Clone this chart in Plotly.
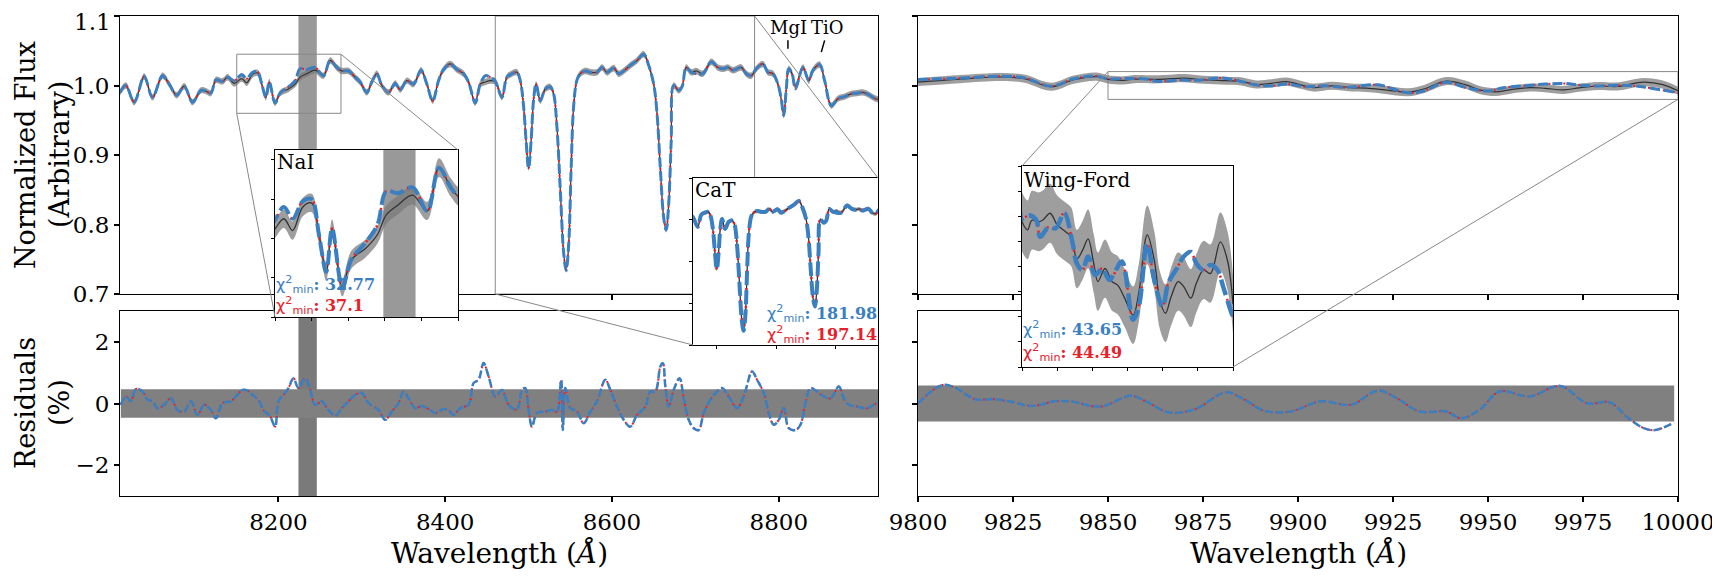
import plotly.graph_objects as go

W, H = 1720, 577
OFF = 8  # the page body adds an 8 px margin; layout below is in screen pixels
SERIF = "DejaVu Serif"
BLUE = "#3a7fc1"
RED = "#e8202a"
OBS = "#333333"
BAND = "rgba(120,120,120,0.72)"
RES_BAND = "#808080"
VBAND_TOP = "#999999"
VBAND_RES = "#7a7a7a"
FRAME = "#888888"

# ---- left spectrum (8010-8920 A) ----
wave_l = [8010, 8017, 8027, 8039, 8049, 8061, 8069, 8078, 8087, 8097,
          8107, 8113, 8119, 8125, 8133, 8139, 8147, 8156, 8162, 8169,
          8175, 8180, 8185, 8189, 8196, 8202, 8212, 8220, 8226, 8234,
          8244, 8254, 8262, 8270, 8276, 8284, 8292, 8298, 8306, 8312,
          8318, 8324, 8332, 8340, 8346, 8354, 8362, 8371, 8378, 8385,
          8392, 8398, 8406, 8414, 8422, 8428, 8436, 8442, 8448, 8454,
          8460, 8468, 8474, 8480, 8486, 8490, 8494, 8497, 8500, 8503,
          8506, 8509, 8514, 8520, 8526, 8530, 8534, 8538, 8542, 8545,
          8548, 8551, 8554, 8558, 8562, 8568, 8574, 8582, 8588, 8594,
          8602, 8608, 8614, 8622, 8630, 8638, 8644, 8650, 8654, 8658,
          8662, 8665, 8668, 8671, 8674, 8680, 8684, 8689, 8695, 8701,
          8709, 8719, 8727, 8733, 8739, 8745, 8755, 8761, 8767, 8773,
          8781, 8787, 8793, 8799, 8803, 8806, 8809, 8812, 8816, 8820,
          8829, 8836, 8841, 8849, 8855, 8863, 8871, 8879, 8887, 8894,
          8901, 8909, 8916, 8920]
fit_l = [0.990, 1.000, 0.976, 1.013, 0.983, 1.014, 1.002, 0.986, 0.999, 0.976,
         0.993, 0.992, 0.989, 1.008, 1.006, 1.012, 1.007, 1.016, 1.010, 1.019,
         1.020, 1.002, 0.983, 1.005, 0.975, 0.989, 0.998, 1.007, 1.024, 1.023,
         1.026, 1.014, 1.036, 1.026, 1.021, 1.021, 1.012, 1.005, 0.990, 1.005,
         1.017, 1.000, 0.990, 1.003, 0.994, 1.007, 1.002, 1.022, 1.002, 0.978,
         1.007, 1.023, 1.031, 1.023, 1.017, 1.005, 0.975, 1.002, 1.014, 1.012,
         1.006, 0.983, 1.012, 1.017, 1.019, 1.007, 0.970, 0.920, 0.881, 0.920,
         0.980, 1.002, 0.978, 0.995, 0.998, 0.988, 0.940, 0.850, 0.760, 0.734,
         0.770, 0.880, 0.970, 1.008, 1.017, 1.021, 1.019, 1.019, 1.026, 1.019,
         1.025, 1.017, 1.021, 1.029, 1.036, 1.045, 1.029, 1.002, 0.960, 0.880,
         0.810, 0.792, 0.830, 0.920, 1.000, 0.993, 0.998, 1.026, 1.019, 1.017,
         1.017, 1.034, 1.026, 1.024, 1.026, 1.022, 1.026, 1.017, 1.014, 1.024,
         1.031, 1.019, 1.017, 1.002, 0.980, 0.957, 0.995, 1.024, 1.017, 0.995,
         1.026, 1.007, 1.022, 1.030, 1.007, 0.971, 0.981, 0.984, 0.988, 0.989,
         0.990, 0.986, 0.981, 0.980]
obs_l = [0.990, 1.000, 0.976, 1.013, 0.983, 1.014, 1.002, 0.986, 0.999, 0.976,
         0.993, 0.992, 0.989, 1.008, 1.006, 1.012, 1.003, 1.010, 1.004, 1.016,
         1.018, 1.002, 0.983, 1.005, 0.975, 0.989, 0.995, 1.002, 1.012, 1.017,
         1.022, 1.014, 1.036, 1.026, 1.021, 1.021, 1.012, 1.005, 0.990, 1.005,
         1.017, 1.000, 0.990, 1.003, 0.994, 1.007, 1.002, 1.022, 1.002, 0.978,
         1.007, 1.023, 1.031, 1.023, 1.017, 1.005, 0.975, 1.002, 1.005, 1.007,
         1.006, 0.983, 1.012, 1.017, 1.019, 1.007, 0.970, 0.920, 0.881, 0.920,
         0.980, 1.002, 0.978, 0.995, 0.998, 0.988, 0.940, 0.850, 0.760, 0.734,
         0.770, 0.880, 0.970, 1.008, 1.017, 1.021, 1.019, 1.019, 1.026, 1.019,
         1.025, 1.017, 1.021, 1.029, 1.036, 1.045, 1.029, 1.002, 0.960, 0.880,
         0.810, 0.792, 0.830, 0.920, 1.000, 0.993, 0.998, 1.026, 1.019, 1.021,
         1.017, 1.034, 1.026, 1.024, 1.026, 1.022, 1.026, 1.017, 1.014, 1.024,
         1.031, 1.019, 1.017, 1.002, 0.980, 0.957, 0.995, 1.024, 1.017, 0.999,
         1.026, 1.007, 1.022, 1.030, 1.007, 0.971, 0.981, 0.984, 0.988, 0.989,
         0.990, 0.986, 0.981, 0.980]

# residuals (%) left
wave_rl = [8011, 8017, 8023, 8029, 8037, 8043, 8049, 8055, 8063, 8071,
           8079, 8087, 8095, 8103, 8111, 8119, 8125, 8133, 8143, 8149,
           8157, 8163, 8169, 8177, 8182, 8190, 8196, 8200, 8206, 8212,
           8218, 8224, 8232, 8238, 8244, 8252, 8260, 8268, 8276, 8284,
           8292, 8300, 8308, 8320, 8328, 8336, 8344, 8350, 8356, 8364,
           8372, 8382, 8388, 8398, 8404, 8410, 8418, 8428, 8434, 8440,
           8446, 8452, 8460, 8468, 8476, 8486, 8492, 8496, 8500, 8504,
           8510, 8520, 8528, 8534, 8539, 8541, 8544, 8550, 8558, 8566,
           8574, 8582, 8592, 8598, 8606, 8614, 8622, 8630, 8640, 8646,
           8652, 8658, 8661, 8664, 8668, 8674, 8681, 8686, 8692, 8698,
           8704, 8710, 8718, 8726, 8732, 8740, 8750, 8758, 8768, 8774,
           8782, 8788, 8794, 8800, 8806, 8812, 8820, 8826, 8832, 8838,
           8846, 8854, 8862, 8872, 8878, 8884, 8894, 8906, 8914, 8920]
res_l = [-0.04, 0.23, 0.07, 0.47, 0.39, 0.12, 0.07, -0.15, -0.04, 0.17,
         -0.21, -0.26, 0.07, -0.37, -0.04, -0.21, -0.48, 0.01, 0.07, 0.23,
         0.44, 0.42, 0.28, 0.07, -0.21, -0.42, -0.75, 0.07, 0.28, 0.50,
         0.82, 0.50, 0.82, 0.44, -0.04, 0.07, -0.21, -0.40, -0.15, 0.07,
         0.28, 0.34, 0.01, -0.21, -0.53, -0.26, 0.01, 0.39, 0.17, -0.15,
         -0.08, -0.21, -0.31, -0.18, -0.21, -0.37, -0.15, -0.04, 0.66, 0.77,
         1.31, 0.88, 0.23, 0.44, -0.04, -0.20, 0.44, 0.50, -0.20, -0.75,
         -0.31, -0.26, -0.21, -0.26, 0.77, -0.86, 0.50, -0.15, -0.26, -0.64,
         -0.26, 0.07, 0.77, 0.44, -0.10, -0.53, -0.75, -0.37, -0.10, 0.39,
         0.39, 1.20, 1.31, 0.55, -0.10, 0.44, 0.82, 0.17, -0.53, -0.80,
         -0.86, -0.31, 0.12, 0.39, 0.50, 0.23, -0.15, 0.23, 1.04, 0.77,
         0.34, -0.31, -0.69, -0.53, -0.15, -0.80, -0.86, -0.69, 0.01, 0.50,
         0.39, 0.23, 0.17, 0.55, 0.17, -0.04, -0.10, -0.15, -0.04, 0.05]

# ---- right spectrum (9800-10000 A) ----
wave_fit_r = [9800, 9811, 9822, 9828, 9835, 9841, 9847, 9850, 9855, 9860,
              9863, 9869, 9874, 9880, 9886, 9889, 9893, 9897, 9902, 9907,
              9912, 9915, 9921, 9929, 9933, 9939, 9944, 9950, 9954, 9960,
              9965, 9970, 9974, 9979, 9984, 9989, 9993, 9999, 10000]
fit_r = [1.0086, 1.0105, 1.0134, 1.0110, 0.9990, 1.0096, 1.0135, 1.0096, 1.0102, 1.0093,
         1.0059, 1.0079, 1.0076, 1.0107, 1.0046, 1.0006, 0.9993, 1.0020, 0.9983, 0.9996,
         0.9973, 0.9983, 1.0010, 0.9894, 0.9920, 1.0046, 0.9973, 0.9920, 0.9967, 0.9996,
         1.0020, 1.0029, 1.0006, 0.9993, 1.0003, 0.9993, 0.9960, 0.9907, 0.9900]
wave_obs_r = [9800, 9811, 9822, 9828, 9835, 9841, 9847, 9850, 9854, 9857,
              9862, 9865, 9870, 9875, 9881, 9885, 9889, 9893, 9897, 9901,
              9904, 9909, 9914, 9918, 9923, 9929, 9933, 9939, 9944, 9948,
              9952, 9956, 9961, 9965, 9970, 9974, 9979, 9984, 9991, 9996,
              10000]
obs_r = [1.0050, 1.0092, 1.0122, 1.0098, 0.9982, 1.0085, 1.0128, 1.0089, 1.0073, 1.0092,
         1.0089, 1.0093, 1.0106, 1.0083, 1.0069, 1.0059, 1.0015, 1.0032, 1.0055, 1.0006,
         0.9970, 0.9996, 0.9970, 0.9963, 0.9937, 0.9903, 0.9947, 1.0063, 1.0013, 0.9933,
         0.9907, 0.9940, 0.9970, 0.9960, 0.9937, 0.9967, 0.9993, 0.9986, 1.0049, 1.0013,
         0.9925]

wave_rr = [9800, 9804, 9807, 9810, 9815, 9820, 9824, 9830, 9836, 9840,
           9848, 9856, 9860, 9866, 9873, 9881, 9886, 9891, 9898, 9906,
           9914, 9921, 9926, 9932, 9939, 9943, 9948, 9953, 9961, 9969,
           9976, 9982, 9987, 9991, 9994, 9999]
res_r = [0.00, 0.44, 0.61, 0.50, 0.14, 0.14, 0.07, -0.08, 0.07, 0.07,
         -0.10, 0.25, 0.07, -0.29, -0.18, 0.36, 0.12, -0.23, -0.26, 0.07,
         -0.04, 0.42, 0.17, -0.26, -0.26, -0.48, -0.18, 0.39, 0.23, 0.57,
         0.01, 0.04, -0.48, -0.80, -0.86, -0.62]

ERR_L = 0.46   # per cent
ERR_R = 0.58

chi_nai = ["32.77", "37.1"]
chi_cat = ["181.98", "197.14"]
chi_wf = ["43.65", "44.49"]

flux_tickvals = [0.7, 0.8, 0.9, 1.0, 1.1]
flux_ticktext = ["0.7", "0.8", "0.9", "1.0", "1.1"]

# ---- screen-pixel layout (x0, x1, top, bottom) and ranges ----
P_TL = (120, 878, 16, 294)
P_BL = (120, 878, 311, 496)
P_TR = (918, 1678, 16, 294)
P_BR = (918, 1678, 311, 496)
P_NAI = (275, 458, 150, 317)
P_CAT = (693, 878, 178, 345)
P_WF = (1022, 1233, 166, 367)

RX_L, RX_R = [8010, 8919], [9800, 10000]
RY_F, RY_R = [0.7, 1.1], [-3, 3]
RX_NAI, RY_NAI = [8150, 8275], [0.96, 1.045]
RX_CAT, RY_CAT = [8460, 8771], [0.7, 1.1]
RX_WF, RY_WF = [9850, 10000], [0.98, 1.02]
BAND_X = [8224, 8246]


def px(p, rx, ry, x, y):
    x0, x1, t, b = p
    return (x0 + (x - rx[0]) / (rx[1] - rx[0]) * (x1 - x0),
            b - (y - ry[0]) / (ry[1] - ry[0]) * (b - t))


def paper(pt):
    return (pt[0] - OFF) / W, 1 - (pt[1] - OFF) / H


fig = go.Figure()


def spectrum(n, wave, obs, wave_fit, fit, err, w_obs, w_red, w_blue, dash_blue, dash_red):
    xa, ya = ("x", "y") if n == 1 else (f"x{n}", f"y{n}")
    com = dict(xaxis=xa, yaxis=ya, mode="lines", hoverinfo="skip", showlegend=False)
    lo = [v * (1 - err / 100) for v in obs]
    hi = [v * (1 + err / 100) for v in obs]
    fig.add_trace(go.Scatter(x=wave, y=lo, line=dict(width=0, shape="spline"), **com))
    fig.add_trace(go.Scatter(x=wave, y=hi, line=dict(width=0, shape="spline"),
                             fill="tonexty", fillcolor=BAND, **com))
    fig.add_trace(go.Scatter(x=wave, y=obs, line=dict(color=OBS, width=w_obs, shape="spline"), **com))
    fig.add_trace(go.Scatter(x=wave_fit, y=fit, line=dict(color=RED, width=w_red, dash=dash_red,
                                                          shape="spline"), **com))
    fig.add_trace(go.Scatter(x=wave_fit, y=fit, line=dict(color=BLUE, width=w_blue, dash=dash_blue,
                                                          shape="spline"), **com))


def residual(n, wave, res, err):
    com = dict(xaxis=f"x{n}", yaxis=f"y{n}", mode="lines", hoverinfo="skip", showlegend=False)
    fig.add_trace(go.Scatter(x=wave, y=[-err for _ in wave], line=dict(width=0), **com))
    fig.add_trace(go.Scatter(x=wave, y=[err for _ in wave], line=dict(width=0),
                             fill="tonexty", fillcolor=RES_BAND, **com))
    fig.add_trace(go.Scatter(x=wave, y=res, line=dict(color=RED, width=2, dash="2px,3px",
                                                      shape="spline"), **com))
    fig.add_trace(go.Scatter(x=wave, y=res, line=dict(color=BLUE, width=2.5, dash="8px,3px",
                                                      shape="spline"), **com))


spectrum(1, wave_l, obs_l, wave_l, fit_l, ERR_L, 1.2, 2, 3, "10px,4px", "2px,3px")
residual(2, wave_rl, res_l, ERR_L)
spectrum(3, wave_obs_r, obs_r, wave_fit_r, fit_r, ERR_R, 1.2, 2, 3, "10px,4px", "2px,3px")
residual(4, wave_rr, res_r, ERR_R)
spectrum(5, wave_l, obs_l, wave_l, fit_l, ERR_L, 1.3, 2.5, 4, "14px,5px", "2px,4px")
spectrum(6, wave_l, obs_l, wave_l, fit_l, ERR_L, 1.3, 2.5, 4, "14px,5px", "2px,4px")
spectrum(7, wave_obs_r, obs_r, wave_fit_r, fit_r, ERR_R, 1.3, 2.5, 4.5, "16px,6px", "2px,4px")

axis_common = dict(showline=True, mirror=True, linecolor="black", linewidth=1,
                   ticks="outside", ticklen=5, tickwidth=1.5, tickcolor="black",
                   showgrid=False, zeroline=False, automargin=False,
                   tickfont=dict(family=SERIF, size=23, color="black"))
inset_common = dict(axis_common, ticklen=3, tickwidth=1, showticklabels=False)


def dom(p):
    x0, x1, t, b = p
    (a, top), (c, bot) = paper((x0, t)), paper((x1, b))
    return [a, c], [bot, top]


def set_axes(n, p, rx, ry, base, xkw, ykw):
    dx, dy = dom(p)
    sx = "" if n == 1 else str(n)
    fig.update_layout(**{
        f"xaxis{sx}": dict(base, domain=dx, range=rx, anchor=f"y{sx}", **xkw),
        f"yaxis{sx}": dict(base, domain=dy, range=ry, anchor=f"x{sx}", **ykw),
    })


# the top label (1.1) sits at the page edge, so it is written as an annotation below
flux_ticks = dict(tickvals=flux_tickvals, ticktext=flux_ticktext[:-1] + [""])
res_ticks = dict(tickvals=[-2, 0, 2])
l_ticks = dict(tickvals=[8200, 8400, 8600, 8800])
r_ticks = dict(tick0=9800, dtick=25, tickformat="d")

set_axes(1, P_TL, RX_L, RY_F, axis_common, dict(l_ticks, showticklabels=False), flux_ticks)
set_axes(2, P_BL, RX_L, RY_R, axis_common, l_ticks, res_ticks)
set_axes(3, P_TR, RX_R, RY_F, axis_common, dict(r_ticks, showticklabels=False),
         dict(flux_ticks, showticklabels=False))
set_axes(4, P_BR, RX_R, RY_R, axis_common, r_ticks, dict(res_ticks, showticklabels=False))
set_axes(5, P_NAI, RX_NAI, RY_NAI, inset_common, dict(tick0=8150, dtick=25), dict(dtick=0.02))
set_axes(6, P_CAT, RX_CAT, RY_CAT, inset_common, dict(tickvals=[8500, 8600, 8700]), dict(dtick=0.1))
set_axes(7, P_WF, RX_WF, RY_WF, inset_common, dict(tick0=9850, dtick=25), dict(dtick=0.005))

shapes = []
# inset backgrounds, drawn in the inset subplot layer so they hide the main panels
for n, rx, ry in [(5, RX_NAI, RY_NAI), (6, RX_CAT, RY_CAT), (7, RX_WF, RY_WF)]:
    shapes.append(dict(type="rect", xref=f"x{n}", yref=f"y{n}", x0=rx[0], x1=rx[1],
                       y0=ry[0], y1=ry[1], fillcolor="white", line=dict(width=0), layer="below"))
# excluded region
for xr, yr, ry, col in [("x", "y", RY_F, VBAND_TOP), ("x2", "y2", RY_R, VBAND_RES),
                        ("x5", "y5", RY_NAI, VBAND_TOP)]:
    shapes.append(dict(type="rect", xref=xr, yref=yr, x0=BAND_X[0], x1=BAND_X[1],
                       y0=ry[0], y1=ry[1], fillcolor=col, line=dict(width=0), layer="below"))
# zoom rectangles
for xr, yr, rx, ry in [("x", "y", RX_NAI, RY_NAI), ("x", "y", RX_CAT, RY_CAT),
                       ("x3", "y3", RX_WF, RY_WF)]:
    shapes.append(dict(type="rect", xref=xr, yref=yr, x0=rx[0], x1=rx[1], y0=ry[0], y1=ry[1],
                       line=dict(color=FRAME, width=1), layer="below"))
# connector lines
conns = [
    (px(P_TL, RX_L, RY_F, RX_NAI[1], RY_NAI[1]), px(P_NAI, RX_NAI, RY_NAI, RX_NAI[1], RY_NAI[1])),
    (px(P_TL, RX_L, RY_F, RX_NAI[0], RY_NAI[0]), px(P_NAI, RX_NAI, RY_NAI, RX_NAI[0], RY_NAI[0])),
    (px(P_TL, RX_L, RY_F, RX_CAT[0], RY_CAT[0]), px(P_CAT, RX_CAT, RY_CAT, RX_CAT[0], RY_CAT[0])),
    (px(P_TL, RX_L, RY_F, RX_CAT[1], RY_CAT[1]), px(P_CAT, RX_CAT, RY_CAT, RX_CAT[1], RY_CAT[1])),
    (px(P_TR, RX_R, RY_F, RX_WF[0], RY_WF[1]), px(P_WF, RX_WF, RY_WF, RX_WF[0], RY_WF[1])),
    (px(P_TR, RX_R, RY_F, RX_WF[1], RY_WF[0]), px(P_WF, RX_WF, RY_WF, RX_WF[1], RY_WF[0])),
]
for a, b in conns:
    (ax, ay), (bx, by) = paper(a), paper(b)
    shapes.append(dict(type="line", xref="paper", yref="paper", x0=ax, y0=ay, x1=bx, y1=by,
                       line=dict(color=FRAME, width=1), layer="above"))
# MgI / TiO markers
shapes.append(dict(type="line", xref="x", yref="y", x0=8811, x1=8811, y0=1.053, y1=1.065,
                   line=dict(color="black", width=1.5), layer="above"))
shapes.append(dict(type="line", xref="x", yref="y", x0=8851, x1=8855, y0=1.048, y1=1.065,
                   line=dict(color="black", width=1.5), layer="above"))
fig.update_layout(shapes=shapes)


def ann(text, x, y, size, color="black", xanchor="center", angle=0):
    fx, fy = paper((x, y))
    fig.add_annotation(text=text, x=fx, y=fy, xref="paper", yref="paper", showarrow=False,
                       xanchor=xanchor, yanchor="middle", textangle=angle, borderpad=0,
                       font=dict(family=SERIF, size=size, color=color))


def chi(val):
    return ('<span style="font-family:DejaVu Sans">χ<sup>2</sup><sub>min</sub></span>'
            f"<b>: {val}</b>")


# top flux tick label, placed next to the 1.1 tick of the left panel
fig.add_annotation(text=flux_ticktext[-1], x=0, xref="x domain", y=flux_tickvals[-1], yref="y",
                   xanchor="right", yanchor="middle", xshift=-8, yshift=-6, showarrow=False,
                   borderpad=0, font=dict(family=SERIF, size=23, color="black"))

ann("Normalized Flux", 25, 155, 27, angle=-90)
ann("(Arbitrary)", 59, 155, 27, angle=-90)
ann("Residuals", 25, 403, 27, angle=-90)
ann("(%)", 59, 403, 27, angle=-90)
ann("Wavelength (<i>Å</i>)", 499, 553, 28)
ann("Wavelength (<i>Å</i>)", 1298, 553, 28)
ann("NaI", 276, 162, 20, xanchor="left")
ann("CaT", 694, 190, 20, xanchor="left")
ann("Wing-Ford", 1023, 180, 20, xanchor="left")
ann(chi(chi_nai[0]), 275, 285, 16, BLUE, "left")
ann(chi(chi_nai[1]), 275, 305, 16, RED, "left")
ann(chi(chi_cat[0]), 878, 313, 16, BLUE, "right")
ann(chi(chi_cat[1]), 878, 334, 16, RED, "right")
ann(chi(chi_wf[0]), 1022, 329, 16, BLUE, "left")
ann(chi(chi_wf[1]), 1022, 352, 16, RED, "left")
fig.add_annotation(text="MgI", x=8812, y=1.083, xref="x", yref="y", showarrow=False,
                   font=dict(family=SERIF, size=18, color="black"))
fig.add_annotation(text="TiO", x=8858, y=1.083, xref="x", yref="y", showarrow=False,
                   font=dict(family=SERIF, size=18, color="black"))

fig.update_layout(width=W, height=H, margin=dict(l=0, r=0, t=0, b=0, autoexpand=False),
                  paper_bgcolor="white", plot_bgcolor="white", showlegend=False,
                  font=dict(family=SERIF, color="black"))

fig.write_html("out.html")
